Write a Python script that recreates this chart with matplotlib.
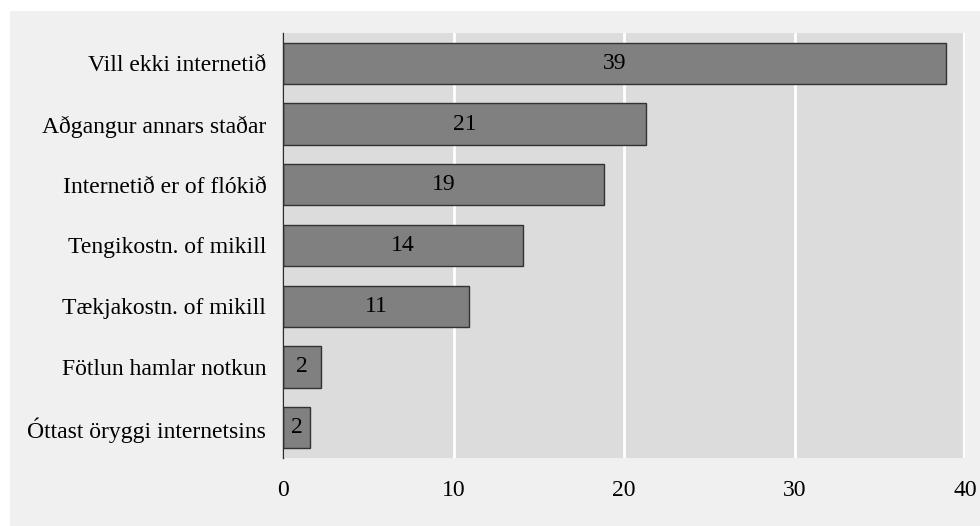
import matplotlib.pyplot as plt
from matplotlib.patches import Rectangle

plt.rcParams['font.family'] = ['Liberation Serif', 'DejaVu Serif']

categories = ['Vill ekki internetið', 'Aðgangur annars staðar', 'Internetið er of flókið',
              'Tengikostn. of mikill', 'Tækjakostn. of mikill', 'Fötlun hamlar notkun',
              'Óttast öryggi internetsins']
values = [38.9, 21.3, 18.8, 14.1, 10.9, 2.2, 1.6]

fig = plt.figure(figsize=(9.8, 5.26), dpi=100, facecolor='white')
fig.patches.append(Rectangle((10/980, 0), 970/980, 515/526, transform=fig.transFigure,
                             facecolor='#f0f0f0', edgecolor='none', zorder=-10))

ax = fig.add_axes([283/980, 1 - 458/526, 682/980, 425/526])
ax.set_facecolor('#dcdcdc')

pos = list(range(len(categories)))
bars = ax.barh(pos, values, height=0.68, color='#808080', edgecolor='#333333', linewidth=1, zorder=3)
for b, v in zip(bars, values):
    ax.text(v / 2, b.get_y() + b.get_height() / 2, f'{v:.0f}', ha='center', va='center',
            fontsize=17, color='black', zorder=4)

ax.set_xlim(0, 40)
ax.set_ylim(len(categories) - 0.5, -0.5)
ax.set_yticks(pos)
ax.set_yticklabels(categories)
ax.set_xticks([0, 10, 20, 30, 40])
ax.tick_params(axis='both', length=0, labelsize=17)
ax.tick_params(axis='y', pad=12)
ax.tick_params(axis='x', pad=16)
ax.grid(axis='x', color='white', linewidth=2, zorder=1)
ax.axvline(40, color='white', linewidth=3, zorder=1)

for s in ['top', 'right', 'bottom']:
    ax.spines[s].set_visible(False)
ax.spines['left'].set_color('#2b2b3b')
ax.spines['left'].set_linewidth(1)
ax.spines['left'].set_zorder(5)

fig.savefig('out.png', dpi=100)
